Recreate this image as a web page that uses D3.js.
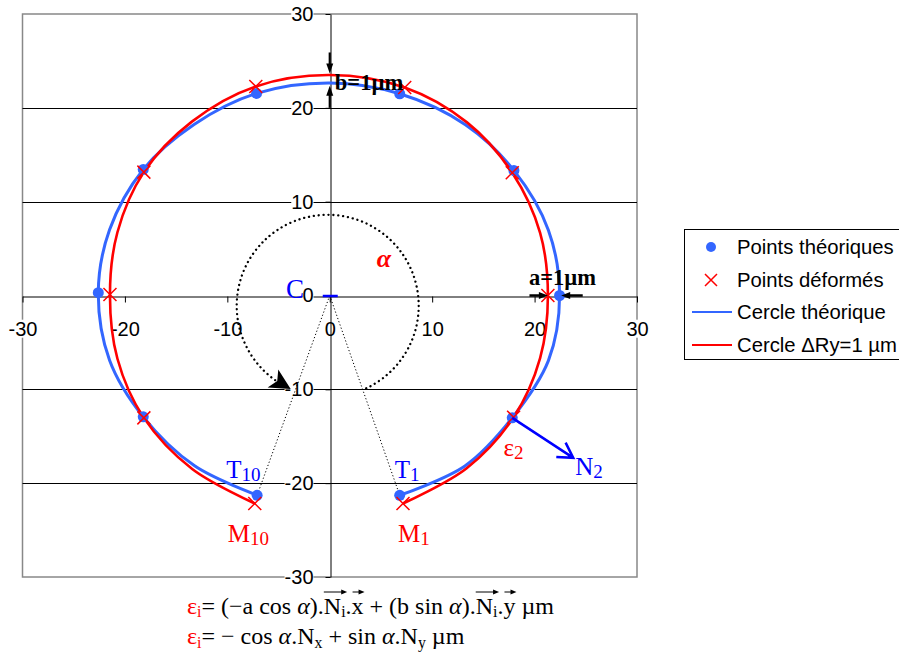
<!DOCTYPE html>
<html><head><meta charset="utf-8">
<script src="https://cdn.jsdelivr.net/npm/d3@7"></script>
<style>body{margin:0;background:#fff} svg{display:block}</style>
</head><body>
<script>
// ---------- data ----------
const tickValues = [-30, -20, -10, 0, 10, 20, 30];
const gridValues = [-20, -10, 10, 20];
// Points théoriques (T1 ... T10)
const theoX = [6.83, 17.82, 22.44, 17.98, 6.83, -7.15, -18.21, -22.6, -18.21, -7.09];
const theoY = [-21.29, -13.04, 0, 13.33, 21.5, 21.54, 13.43, 0.3, -12.93, -21.29];
// Points déformés (M1 ... M10)
const defX = [7.15, 17.95, 21.3, 17.82, 7.32, -7.22, -18.15, -21.46, -18.15, -7.32];
const defY = [-22.17, -12.97, 0, 13.08, 22.17, 22.28, 13.15, 0.1, -13.04, -22.17];
// Cercle théorique (line samples, T1 -> T10)
const theoLineX = [6.83, 13.2, 17.82, 21.35, 22.44, 21.35, 17.98, 13.25, 6.83, 0, -7.15, -13.25, -18.21, -21.5, -22.6, -21.5, -18.21, -13.2, -7.09];
const theoLineY = [-21.29, -18.16, -13.04, -6.94, 0, 6.96, 13.33, 18.2, 21.5, 22.65, 21.54, 18.22, 13.43, 7.0, 0.3, -6.9, -12.93, -18.15, -21.29];
// Cercle ΔRy=1 µm (line samples, M1 -> M10)
const defLineX = [7.15, 13.37, 17.95, 20.54, 21.3, 20.54, 17.82, 13.4, 7.32, 0, -7.22, -13.46, -18.15, -20.73, -21.46, -20.73, -18.15, -13.43, -7.32];
const defLineY = [-22.17, -18.4, -12.97, -6.67, 0, 6.67, 13.08, 18.45, 22.17, 23.5, 22.28, 18.53, 13.15, 6.74, 0.1, -6.74, -13.04, -18.49, -22.17];
const legendLabels = ["Points théoriques", "Points déformés", "Cercle théorique", "Cercle ΔRy=1 µm"];

// ---------- setup ----------
const W = 899, H = 661;
const BLUE = "#3366FF", PBLUE = "#0000FF", RED = "#FF0000";
const SANS = "'Liberation Sans', Arial, sans-serif";
const SERIF = "'Liberation Serif', 'Times New Roman', serif";
const svg = d3.select("body").append("svg").attr("width", W).attr("height", H);
const P = {left: 22.5, top: 14, right: 637, bottom: 577};
const x = d3.scaleLinear().domain([-30, 30]).range([P.left, P.right]);
const y = d3.scaleLinear().domain([-30, 30]).range([P.bottom, P.top]);

// plot border
svg.append("rect").attr("x", P.left).attr("y", P.top)
  .attr("width", P.right - P.left).attr("height", P.bottom - P.top)
  .attr("fill", "none").attr("stroke", "#888").attr("stroke-width", 1.5);

// gridlines
svg.append("g").selectAll("line").data(gridValues).join("line")
  .attr("x1", P.left).attr("x2", P.right)
  .attr("y1", d => Math.round(y(d)) + 0.5).attr("y2", d => Math.round(y(d)) + 0.5)
  .attr("stroke", "#000").attr("stroke-width", 1);

// axes
const xAxis = svg.append("g").attr("transform", `translate(0,${Math.round(y(0)) + 0.5})`)
  .call(d3.axisBottom(x).tickValues(tickValues).tickSize(6).tickSizeOuter(0).tickPadding(19).tickFormat(d => String(d)));
const yAxis = svg.append("g").attr("transform", `translate(${Math.round(x(0)) + 0.5},0)`)
  .call(d3.axisLeft(y).tickValues(tickValues).tickSize(5).tickSizeOuter(0).tickPadding(12).tickFormat(d => String(d)));
[xAxis, yAxis].forEach(g => {
  g.select(".domain").attr("stroke", "#000").attr("stroke-width", 1);
  g.selectAll(".tick line").attr("stroke", "#000");
  g.selectAll(".tick text").attr("font-family", SANS).attr("font-size", 20).attr("fill", "#000");
  g.selectAll(".tick text").each(function () {
    const b = this.getBBox();
    d3.select(this.parentNode).insert("rect", "text")
      .attr("x", b.x).attr("y", b.y + 2).attr("width", b.width).attr("height", b.height - 4)
      .attr("fill", "#fff");
  });
});

// ---------- curves ----------
const theo = d3.zip(theoX, theoY);
const def = d3.zip(defX, defY);
const lineGen = d3.line().x(d => x(d[0])).y(d => y(d[1])).curve(d3.curveCatmullRom.alpha(0.5));

svg.append("path").attr("d", lineGen(d3.zip(theoLineX, theoLineY))).attr("fill", "none")
  .attr("stroke", BLUE).attr("stroke-width", 3);
svg.append("path").attr("d", lineGen(d3.zip(defLineX, defLineY))).attr("fill", "none")
  .attr("stroke", RED).attr("stroke-width", 2.6);

// dotted radii to T1 and T10
[theo[0], theo[theo.length - 1]].forEach(p => {
  svg.append("line").attr("x1", x(0)).attr("y1", y(0)).attr("x2", x(p[0])).attr("y2", y(p[1]))
    .attr("stroke", "#000").attr("stroke-width", 1).attr("stroke-dasharray", "1.2 2.2");
});

// points
svg.append("g").selectAll("circle").data(theo).join("circle")
  .attr("cx", d => x(d[0])).attr("cy", d => y(d[1])).attr("r", 5.5).attr("fill", BLUE);
const cross = (g, cx, cy, s, col, w) => {
  g.append("path").attr("d", `M${cx - s},${cy - s}L${cx + s},${cy + s}M${cx - s},${cy + s}L${cx + s},${cy - s}`)
    .attr("stroke", col).attr("stroke-width", w).attr("fill", "none");
};
const gx = svg.append("g");
def.forEach(d => cross(gx, x(d[0]), y(d[1]), 6.5, RED, 1.5));

// ---------- annotations ----------
function filledArrow(x1, y1, x2, y2, len, hw, w) {
  const dx = x2 - x1, dy = y2 - y1, L = Math.hypot(dx, dy), ux = dx / L, uy = dy / L;
  const bx = x2 - ux * len, by = y2 - uy * len;
  svg.append("line").attr("x1", x1).attr("y1", y1).attr("x2", bx + ux * 2).attr("y2", by + uy * 2)
    .attr("stroke", "#000").attr("stroke-width", w);
  svg.append("path").attr("d", `M${x2},${y2}L${bx - uy * hw},${by + ux * hw}L${bx + uy * hw},${by - ux * hw}Z`)
    .attr("fill", "#000");
}
// b = 1 µm arrows
filledArrow(x(0), y(25.9), x(0), y(23.65), 10, 3.5, 2.2);
filledArrow(x(0), y(20.0), x(0), y(22.35), 10, 3.5, 2.2);
svg.append("text").attr("x", x(0.5)).attr("y", y(21.9)).attr("font-family", SERIF)
  .attr("font-weight", "bold").attr("font-size", 22.5).text("b=1µm");
// a = 1 µm arrows
filledArrow(x(19.5), y(0), x(21.3), y(0), 9, 3.5, 2.5);
filledArrow(x(24.7), y(0), x(22.6), y(0), 9, 3.5, 2.5);
svg.append("text").attr("x", x(19.45)).attr("y", y(1.12)).attr("font-family", SERIF)
  .attr("font-weight", "bold").attr("font-size", 22.5).text("a=1µm");

// dotted alpha arc with arrow
const cxA = x(-0.2), cyA = y(-1.1), rA = 91;
const toR = a => a * Math.PI / 180;
const arcP = d3.path();
arcP.arc(cxA, cyA, rA, toR(65), toR(-236), true);
svg.append("path").attr("d", arcP.toString()).attr("fill", "none").attr("stroke", "#000")
  .attr("stroke-width", 2.3).attr("stroke-dasharray", "0.1 4.8").attr("stroke-linecap", "round");
{
  const tip = [cxA + rA * Math.cos(toR(-246)), cyA + rA * Math.sin(toR(-246))];
  const base = [cxA + rA * Math.cos(toR(-233)), cyA + rA * Math.sin(toR(-233))];
  const dx = tip[0] - base[0], dy = tip[1] - base[1], L = Math.hypot(dx, dy), ux = dx / L, uy = dy / L;
  const hw = 10.5;
  const notch = [base[0] + ux * 5, base[1] + uy * 5];
  svg.append("path").attr("d",
    `M${tip[0]},${tip[1]}L${base[0] - uy * hw},${base[1] + ux * hw}L${notch[0]},${notch[1]}L${base[0] + uy * hw},${base[1] - ux * hw}Z`)
    .attr("fill", "#000");
}
svg.append("text").attr("x", x(4.6)).attr("y", y(3.04)).attr("font-family", SERIF)
  .attr("font-weight", "bold").attr("font-style", "italic").attr("font-size", 26).attr("fill", RED).text("α");

// centre C and cross
svg.append("text").attr("x", x(-4.27)).attr("y", y(-0.27)).attr("font-family", SERIF)
  .attr("font-size", 27).attr("fill", PBLUE).text("C");
svg.append("line").attr("x1", x(0) - 7).attr("x2", x(0) + 8).attr("y1", y(0) + 0.5).attr("y2", y(0) + 0.5)
  .attr("stroke", PBLUE).attr("stroke-width", 2.5);

// labels with subscripts
function subLabel(px, py, main, sub, color) {
  const t = svg.append("text").attr("x", px).attr("y", py).attr("fill", color)
    .attr("font-family", SERIF).attr("font-size", 25);
  t.append("tspan").text(main);
  t.append("tspan").attr("font-size", 19).attr("dy", 3).text(sub);
}
const tF = theo[0], tL = theo[theo.length - 1], mF = def[0], mL = def[def.length - 1];
subLabel(x(tF[0]) - 5, y(tF[1]) - 17, "T", "1", PBLUE);
subLabel(x(tL[0]) - 31, y(tL[1]) - 17, "T", "10", PBLUE);
subLabel(x(mF[0]) - 5, y(mF[1]) + 38, "M", "1", RED);
subLabel(x(mL[0]) - 27, y(mL[1]) + 38, "M", "10", RED);
subLabel(x(def[1][0]) - 10, y(def[1][1]) + 39, "ε", "2", RED);

// N2 normal vector
{
  const p = theo[1];
  const x1 = x(p[0]), y1 = y(p[1]), x2 = x1 + 61, y2 = y1 + 40;
  const a = Math.atan2(y2 - y1, x2 - x1), l = 17, s = toR(30);
  svg.append("path").attr("d",
    `M${x1},${y1}L${x2},${y2}M${x2 - l * Math.cos(a - s)},${y2 - l * Math.sin(a - s)}L${x2},${y2}L${x2 - l * Math.cos(a + s)},${y2 - l * Math.sin(a + s)}`)
    .attr("fill", "none").attr("stroke", PBLUE).attr("stroke-width", 2.5);
  subLabel(x1 + 63, y1 + 57, "N", "2", PBLUE);
}

// ---------- legend ----------
const lg = svg.append("g");
lg.append("rect").attr("x", 684.5).attr("y", 229.5).attr("width", 240).attr("height", 130)
  .attr("fill", "#fff").attr("stroke", "#000").attr("stroke-width", 1);
const rowsY = [247, 280, 312, 345];
lg.append("circle").attr("cx", 711).attr("cy", rowsY[0]).attr("r", 5).attr("fill", BLUE);
cross(lg, 711, rowsY[1], 6, RED, 1.5);
lg.append("line").attr("x1", 692).attr("x2", 732).attr("y1", rowsY[2]).attr("y2", rowsY[2]).attr("stroke", BLUE).attr("stroke-width", 2);
lg.append("line").attr("x1", 692).attr("x2", 732).attr("y1", rowsY[3]).attr("y2", rowsY[3]).attr("stroke", RED).attr("stroke-width", 2);
lg.selectAll("text.lt").data(legendLabels).join("text").attr("class", "lt")
  .attr("x", 737).attr("y", (d, i) => rowsY[i]).attr("dy", "0.35em")
  .attr("font-family", SANS).attr("font-size", 20.3).attr("fill", "#000").text(d => d);

// ---------- formulas ----------
function formula(py, size, subDy, parts) {
  const t = svg.append("text").attr("x", 187).attr("y", py).attr("font-family", SERIF).attr("font-size", size);
  const nodes = [];
  let low = false;
  parts.forEach(p => {
    const s = t.append("tspan").text(p.t).attr("fill", p.c || "#000");
    if (p.it) s.attr("font-style", "italic");
    if (p.sub && !low) { s.attr("dy", subDy).attr("font-size", size * 0.66); low = true; }
    else if (p.sub) { s.attr("font-size", size * 0.66); }
    else if (low) { s.attr("dy", -subDy); low = false; }
    nodes.push(s.node());
  });
  return nodes;
}
function vecArrow(x1, x2, yy) {
  svg.append("line").attr("x1", x1).attr("x2", x2 - 3).attr("y1", yy).attr("y2", yy).attr("stroke", "#000").attr("stroke-width", 1);
  svg.append("path").attr("d", `M${x2},${yy}L${x2 - 6},${yy - 2.5}L${x2 - 6},${yy + 2.5}Z`).attr("fill", "#000");
}
const f1 = formula(614, 24, 3, [
  {t: "ε", c: RED}, {t: "i", c: RED, sub: true}, {t: "= (−a cos "}, {t: "α", it: true}, {t: ")."},
  {t: "N"}, {t: "i", sub: true}, {t: "."}, {t: "x"}, {t: " + (b sin "}, {t: "α", it: true}, {t: ")."},
  {t: "N"}, {t: "i", sub: true}, {t: "."}, {t: "y"}, {t: " µm"}
]);
const bb = n => n.getBBox();
[[5, 6], [12, 13]].forEach(([a, b]) => vecArrow(bb(f1[a]).x, bb(f1[b]).x + bb(f1[b]).width + 1, 592));
[8, 15].forEach(i => { const b = bb(f1[i]); vecArrow(b.x + 1, b.x + b.width + 1, 592); });
formula(644, 24, 4, [
  {t: "ε", c: RED}, {t: "i", c: RED, sub: true}, {t: "= − cos "}, {t: "α", it: true}, {t: ".N"},
  {t: "x", sub: true}, {t: " + sin "}, {t: "α", it: true}, {t: ".N"}, {t: "y", sub: true}, {t: " µm"}
]);
</script>
</body></html>
